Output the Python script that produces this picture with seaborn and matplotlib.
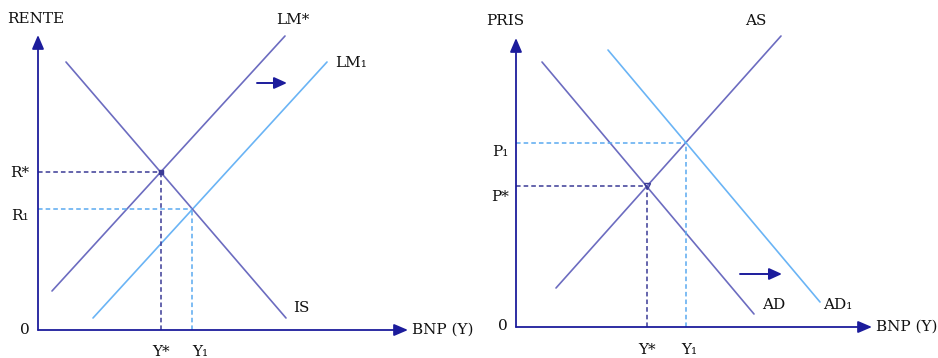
import numpy as np
import pandas as pd
import matplotlib
matplotlib.use("Agg")
import matplotlib.pyplot as plt
import seaborn as sns

# ---------------- data (axis units) ----------------
# Left panel: IS-LM
left_curves = ["LM*", "LM₁", "IS"]
left_x0 = [1.4, 5.5, 2.8]
left_y0 = [3.9, 1.2, 26.8]
left_x1 = [24.7, 28.9, 24.8]
left_y1 = [29.4, 26.8, 1.2]
left_kind = ["main", "shift", "main"]

# Right panel: AS-AD
right_curves = ["AS", "AD", "AD₁"]
right_x0 = [4.0, 2.6, 9.2]
right_y0 = [3.9, 26.5, 27.7]
right_x1 = [26.5, 23.8, 30.4]
right_y1 = [29.1, 1.3, 2.5]
right_kind = ["main", "main", "shift"]

left_ylabels = ["R*", "R₁"]
left_xlabels = ["Y*", "Y₁"]
right_ylabels = ["P*", "P₁"]
right_xlabels = ["Y*", "Y₁"]

NAVY = "#1c1c9c"
MAIN = "#6c6cc0"
SHIFT = "#6ab4f5"
DASH_MAIN = "#3a3a96"
DASH_SHIFT = "#5aaaf0"
FONT = "DejaVu Serif"
FS = 11

sns.set_theme(style="white")
plt.rcParams["font.family"] = [FONT, "DejaVu Sans"]

fig = plt.figure(figsize=(9.38, 3.58), dpi=100)
W, H = 938, 358


def make_ax(ox, oy, xmax, ymax):
    # origin at pixel (ox, oy); 1 unit = 10 px
    left = (ox - 40) / W
    bottom = (H - oy - 40) / H
    ax = fig.add_axes([left, bottom, (xmax * 10 + 80) / W, (ymax * 10 + 80) / H])
    ax.set_xlim(-4, xmax + 4)
    ax.set_ylim(-4, ymax + 4)
    ax.axis("off")
    ax.patch.set_alpha(0)
    return ax


def line_params(x0, y0, x1, y1):
    m = (y1 - y0) / (x1 - x0)
    return m, y0 - m * x0


def intersect(a, b):
    m1, c1 = a
    m2, c2 = b
    x = (c2 - c1) / (m1 - m2)
    return x, m1 * x + c1


def draw_panel(ax, names, x0, y0, x1, y1, kind, xmax, ymax):
    df = pd.DataFrame({
        "curve": [n for n in names for _ in range(2)],
        "x": [v for pair in zip(x0, x1) for v in pair],
        "y": [v for pair in zip(y0, y1) for v in pair],
    })
    pal = {n: (MAIN if k == "main" else SHIFT) for n, k in zip(names, kind)}
    sns.lineplot(data=df, x="x", y="y", hue="curve", palette=pal, ax=ax,
                 legend=False, lw=1.2, sort=False, estimator=None)
    # axes arrows
    for tip in [(xmax, 0), (0, ymax)]:
        ax.annotate("", xy=tip, xytext=(0, 0),
                    arrowprops=dict(arrowstyle="-|>,head_length=0.7,head_width=0.3",
                                    color=NAVY, lw=1.3,
                                    mutation_scale=12, shrinkA=0, shrinkB=0))


def dashed_guides(ax, px, py, color):
    ax.plot([0, px], [py, py], ls=(0, (3, 2)), color=color, lw=1.1)
    ax.plot([px, px], [0, py], ls=(0, (3, 2)), color=color, lw=1.1)


def shift_arrow(ax, xa, xb, y):
    ax.annotate("", xy=(xb, y), xytext=(xa, y),
                arrowprops=dict(arrowstyle="-|>,head_length=0.55,head_width=0.25",
                                color=NAVY, lw=1.4,
                                mutation_scale=14, shrinkA=0, shrinkB=0))


def txt(ax, x, y, s, ha="center", va="center"):
    ax.text(x, y, s, ha=ha, va=va, fontsize=FS, color="#111111", family=[FONT, "DejaVu Sans"])


# ---------------- left panel ----------------
axL = make_ax(38, 330, 37.0, 29.5)
draw_panel(axL, left_curves, left_x0, left_y0, left_x1, left_y1, left_kind, 37.0, 29.5)
Lp = [line_params(a, b, c, d) for a, b, c, d in zip(left_x0, left_y0, left_x1, left_y1)]
e0 = intersect(Lp[0], Lp[2])
e1 = intersect(Lp[1], Lp[2])
dashed_guides(axL, e0[0], e0[1], DASH_MAIN)
dashed_guides(axL, e1[0], e1[1], DASH_SHIFT)
axL.plot([e0[0]], [e0[1]], marker="s", ms=2.5, color=DASH_MAIN)
shift_arrow(axL, 21.9, 24.9, 24.7)
txt(axL, -0.2, 31.1, "RENTE")
txt(axL, 37.4, 0.0, "BNP (Y)", ha="left")
txt(axL, -0.8, 0.0, "0", ha="right")
txt(axL, -1.8, e0[1] - 0.1, left_ylabels[0])
txt(axL, -1.8, e1[1] - 0.7, left_ylabels[1])
txt(axL, e0[0], -2.2, left_xlabels[0])
txt(axL, e1[0] + 0.8, -2.2, left_xlabels[1])
txt(axL, 25.5, 31.0, "LM*")
txt(axL, 29.7, 26.7, "LM₁", ha="left")
txt(axL, 25.5, 2.2, "IS", ha="left")

# ---------------- right panel ----------------
axR = make_ax(516, 327, 35.6, 28.9)
draw_panel(axR, right_curves, right_x0, right_y0, right_x1, right_y1, right_kind, 35.6, 28.9)
Rp = [line_params(a, b, c, d) for a, b, c, d in zip(right_x0, right_y0, right_x1, right_y1)]
p0 = intersect(Rp[0], Rp[1])
p1 = intersect(Rp[0], Rp[2])
dashed_guides(axR, p0[0], p0[1], DASH_MAIN)
dashed_guides(axR, p1[0], p1[1], DASH_SHIFT)
axR.plot([p0[0]], [p0[1]], marker="v", ms=4, mfc="none", mec=DASH_MAIN, mew=1)
shift_arrow(axR, 22.4, 26.6, 5.3)
txt(axR, -1.1, 30.6, "PRIS")
txt(axR, 24.0, 30.6, "AS")
txt(axR, 36.0, 0.0, "BNP (Y)", ha="left")
txt(axR, -0.8, 0.1, "0", ha="right")
txt(axR, -1.6, p1[1] - 0.9, right_ylabels[1])
txt(axR, -1.6, p0[1] - 1.1, right_ylabels[0])
txt(axR, p0[0], -2.3, right_xlabels[0])
txt(axR, p1[0] + 0.3, -2.3, right_xlabels[1])
txt(axR, 24.6, 2.2, "AD", ha="left")
txt(axR, 30.7, 2.2, "AD₁", ha="left")

fig.savefig("out.png", dpi=100, facecolor="white")
